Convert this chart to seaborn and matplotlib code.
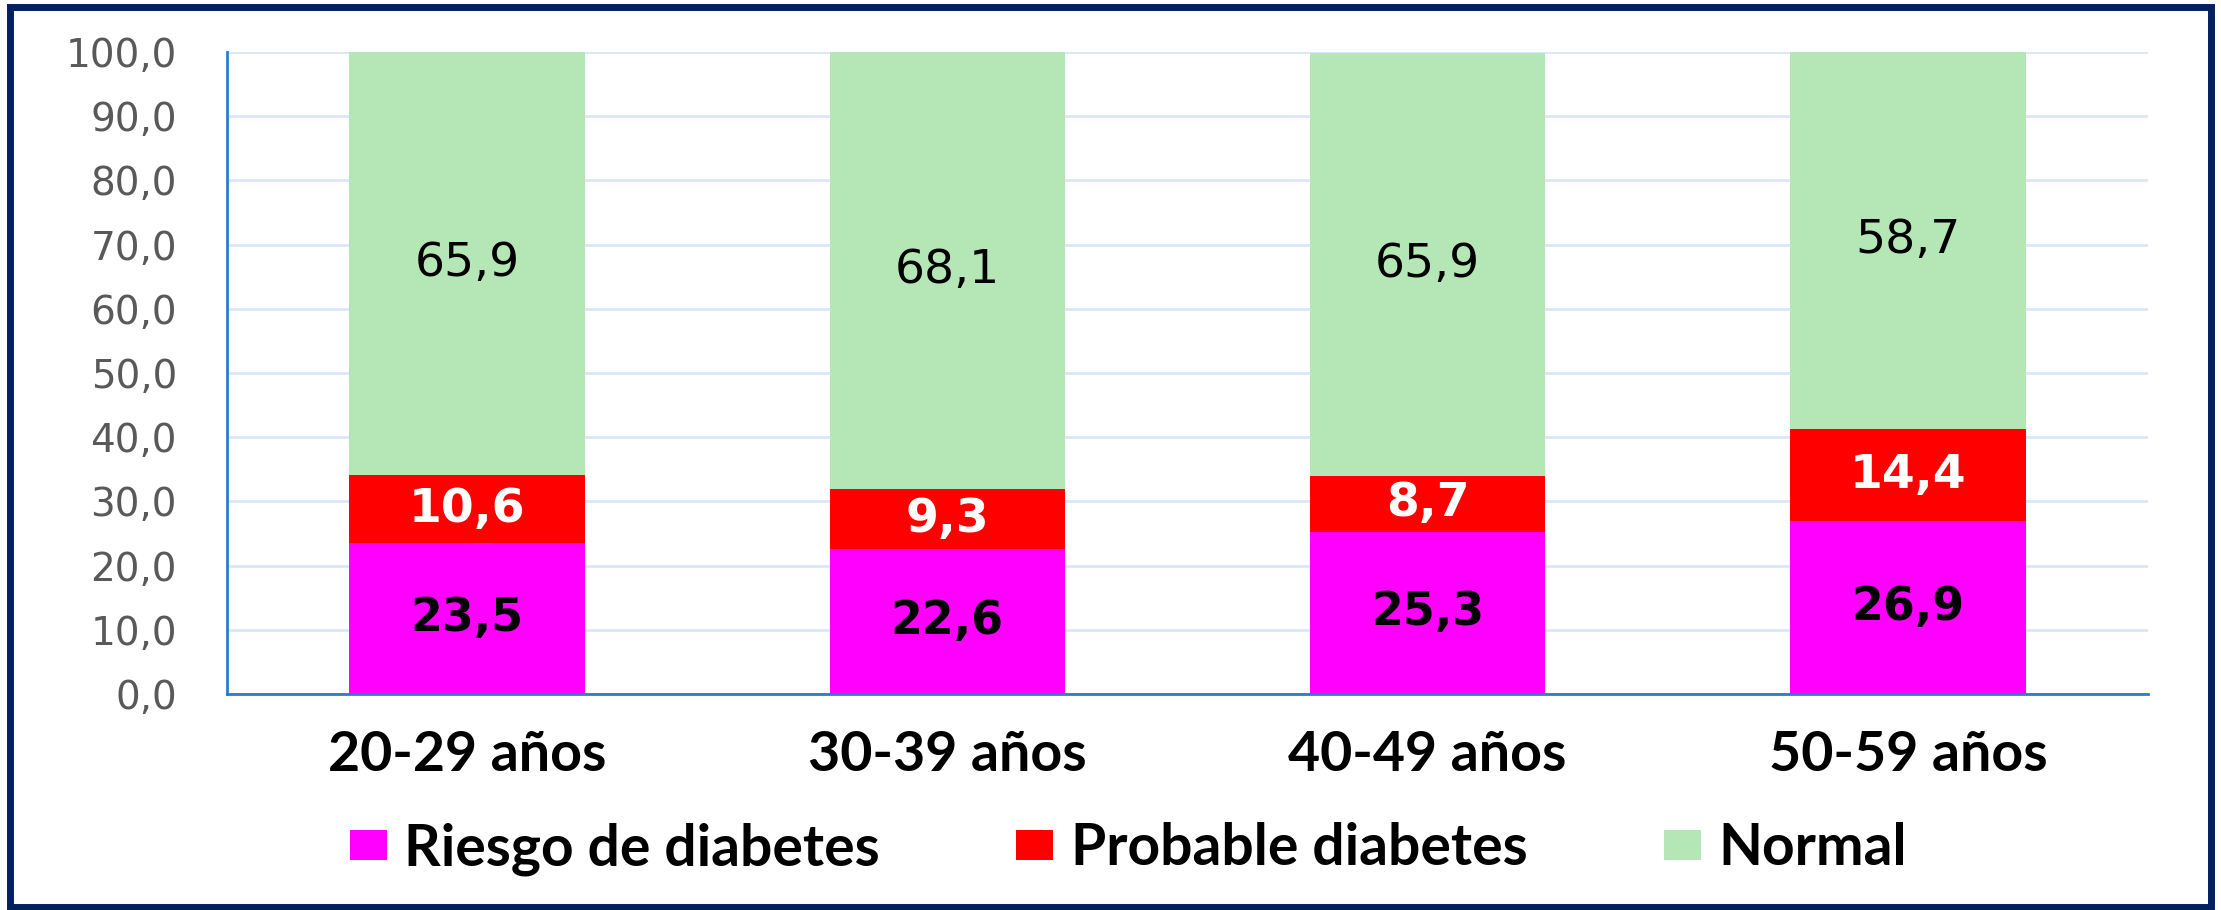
import matplotlib
matplotlib.use("Agg")
import matplotlib.pyplot as plt
from matplotlib.patches import Patch, Rectangle
import seaborn as sns
import pandas as pd
import numpy as np

categories = ["20-29 años", "30-39 años", "40-49 años", "50-59 años"]
riesgo = [23.5, 22.6, 25.3, 26.9]
probable = [10.6, 9.3, 8.7, 14.4]
normal = [65.9, 68.1, 65.9, 58.7]
series_names = ["Riesgo de diabetes", "Probable diabetes", "Normal"]
yticks = [0, 10, 20, 30, 40, 50, 60, 70, 80, 90, 100]

colors = ["#FF00FF", "#FF0000", "#B5E6B5"]

sns.set_theme(style="white")
plt.rcParams['font.family'] = ['DejaVu Sans']

df = pd.DataFrame({"cat": categories, "r": riesgo, "p": probable, "n": normal})
df["c1"] = df["r"]
df["c2"] = df["r"] + df["p"]
df["c3"] = df["r"] + df["p"] + df["n"]

fig = plt.figure(figsize=(22.21, 9.10), dpi=100)
ax = fig.add_axes([227/2221, 1-694/910, (2148-227)/2221, (694-52)/910])

W = 0.49
for col, c in zip(["c3", "c2", "c1"], colors[::-1]):
    sns.barplot(data=df, x="cat", y=col, color=c, width=W, ax=ax,
                saturation=1, linewidth=0, zorder=2)

ax.set_ylim(0, 100)
ax.set_xlim(-0.5, 3.5)
ax.set_yticks(yticks)
ax.set_yticklabels([f"{v:.1f}".replace(".", ",") for v in yticks])
ax.set_xlabel("")
ax.set_ylabel("")
ax.yaxis.grid(True, color="#DCE6F4", linewidth=2, zorder=0)
ax.set_axisbelow(True)
for s in ["top", "right"]:
    ax.spines[s].set_visible(False)
for s in ["left", "bottom"]:
    ax.spines[s].set_color("#2B7BCF")
    ax.spines[s].set_linewidth(2)
ax.tick_params(axis="y", length=0, pad=36, labelsize=28, labelcolor="#595959")
ax.tick_params(axis="x", length=0, pad=26)
for lab in ax.get_xticklabels():
    lab.set_fontfamily("Lato")
    lab.set_fontweight("bold")
    lab.set_fontsize(40)
    lab.set_color("black")

fmt = lambda v: f"{v:.1f}".replace(".", ",")
for i in range(len(categories)):
    r, p, n = riesgo[i], probable[i], normal[i]
    ax.text(i, r/2, fmt(r), ha="center", va="center", fontsize=33,
            fontweight="bold", color="black", zorder=5)
    ax.text(i, r + p/2, fmt(p), ha="center", va="center", fontsize=34,
            fontweight="bold", color="white", zorder=5)
    ax.text(i, r + p + n/2, fmt(n), ha="center", va="center", fontsize=34,
            color="black", zorder=5)

handles = [Patch(facecolor=c, edgecolor="none", label=l) for c, l in zip(colors, series_names)]
fig.legend(handles=handles, loc="center", bbox_to_anchor=(0.508, 1-849/910), ncol=3,
           frameon=False, handlelength=0.65, handleheight=0.44, handletextpad=0.3,
           columnspacing=2.4, labelcolor="black",
           prop={"family": "Lato", "weight": "bold", "size": 41})

fig.patches.append(Rectangle((10/2221, 3/910), (2211-10)/2221, (906-6)/910,
                             transform=fig.transFigure, fill=False,
                             edgecolor="#002060", linewidth=5, zorder=10))

fig.savefig("out.png", dpi=100)
